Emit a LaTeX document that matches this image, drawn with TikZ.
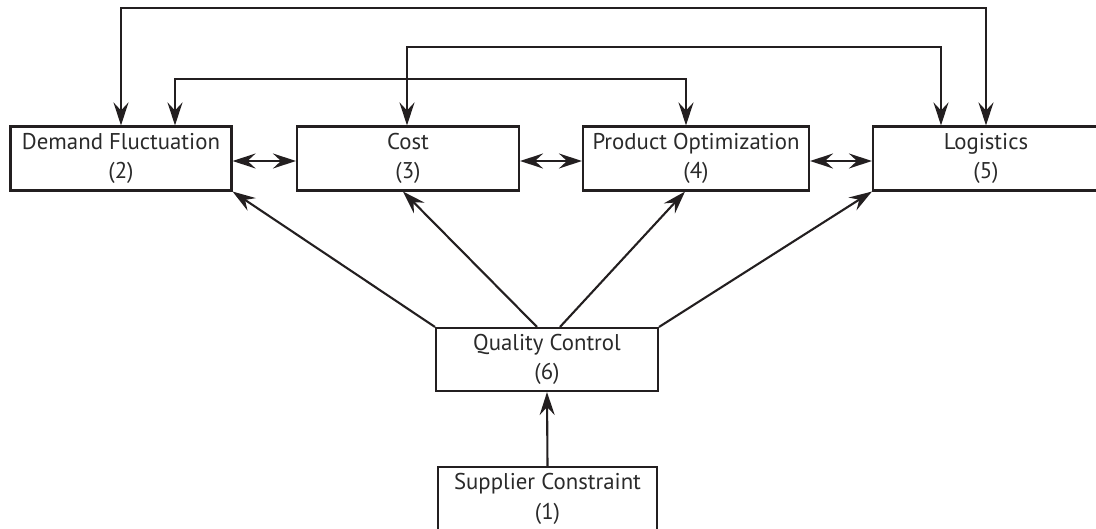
\documentclass[tikz,border=0pt]{standalone}
\usepackage{fontspec}
\setmainfont{PT Sans}
\usetikzlibrary{arrows.meta}
\definecolor{ink}{HTML}{231F20}
\definecolor{txt}{HTML}{2A2A2A}
\begin{document}
\begin{tikzpicture}[x=1pt,y=-1pt,
  box/.style={draw=ink, line width=2.1pt, rectangle, minimum height=64pt,
    align=center, inner sep=0pt, text=txt,
    font=\fontsize{22.8}{29.5}\selectfont},
  tip/.tip={Stealth[length=23pt,width=15pt,inset=8pt]},
  link/.style={draw=ink, line width=2.1pt, -tip},
  both/.style={draw=ink, line width=2.1pt, tip-tip}]
\useasboundingbox (0,0) rectangle (1096,529);
\clip (0,0) rectangle (1096,529);

% factor boxes
\node[box, minimum width=221pt] (dem)  at (121,158.5) {Demand Fluctuation\\(2)};
\node[box, minimum width=222pt] (cost) at (408,158.5) {Cost\\(3)};
\node[box, minimum width=226pt] (prod) at (696,158.5) {Product Optimization\\(4)};
\node[box, minimum width=226pt] (logi) at (986,158.5) {Logistics\\(5)};
\node[box, minimum width=222pt, minimum height=63pt] (qc) at (547,359.5) {Quality Control\\(6)};
\node[box, minimum width=219pt] (sup) at (547.5,499) {Supplier Constraint\\(1)};

% heights of the three overhead routes
\coordinate (railA) at (0,8);
\coordinate (railB) at (0,47);
\coordinate (railC) at (0,79);

% overhead two-way links
\draw[both] (dem.north) -- (dem.north |- railA) -| (logi.north);
\draw[both] ([xshift=-1pt]cost.north) -- ([xshift=-1pt]cost.north |- railB) -| ([xshift=-45pt]logi.north);
\draw[both] ([xshift=54pt]dem.north) -- ([xshift=54pt]dem.north |- railC) -| ([xshift=-10pt]prod.north);

% neighbour links along the row
\draw[both] ([yshift=-2.5pt]dem.east)  -- ([yshift=-2.5pt]cost.west);
\draw[both] ([yshift=-2.5pt]cost.east) -- ([yshift=-2.5pt]prod.west);
\draw[both] ([yshift=-2.5pt]prod.east) -- ([yshift=-2.5pt]logi.west);

% quality control feeds every factor
\draw[link] (qc.north west) -- (dem.south east);
\draw[link] ([xshift=-10pt]qc.north) -- ([xshift=-5pt]cost.south);
\draw[link] ([xshift=13pt]qc.north) -- ([xshift=-11pt]prod.south);
\draw[link] (qc.north east) -- (logi.south west);

% supplier constraint drives quality control
\draw[link] (sup.north) -- (qc.south);
\end{tikzpicture}
\end{document}
